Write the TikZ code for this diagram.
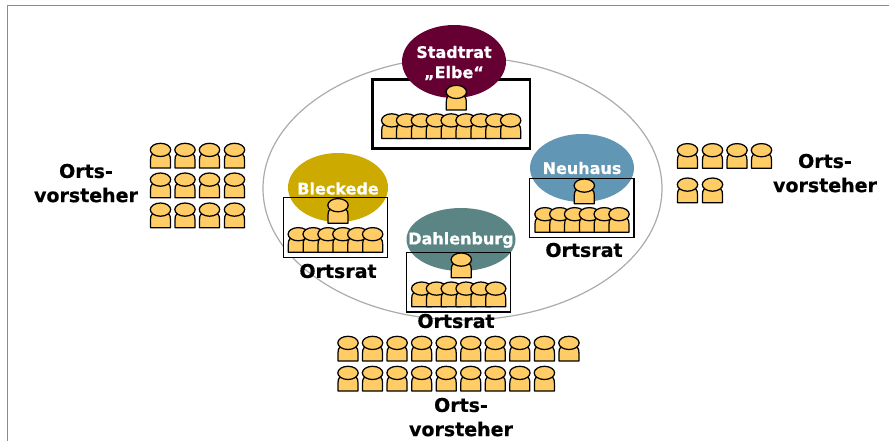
\documentclass[tikz,border=0pt]{standalone}
\usepackage{fontspec}
\setmainfont{DejaVu Sans}[BoldFeatures={FakeBold=0.6}]
\usetikzlibrary{shapes.geometric}
\definecolor{personfill}{HTML}{FFCC66}
\definecolor{ringgray}{HTML}{ABABAB}
\definecolor{framegray}{HTML}{8C8C8C}
\definecolor{stadtcol}{HTML}{660033}
\definecolor{bleckcol}{HTML}{CCAA00}
\definecolor{dahlcol}{HTML}{5B8585}
\definecolor{neucol}{HTML}{6296B5}
\tikzset{
  blob/.style={ellipse,fill=#1,draw=none,inner sep=0pt,outer sep=0pt},
  blobtext/.style={text=white,font=\fontsize{16}{18}\selectfont\bfseries,inner sep=0pt,anchor=center},
  lab/.style={text=black,font=\fontsize{19}{22}\selectfont\bfseries,inner sep=0pt,anchor=center},
  person/.pic={
    \draw[fill=personfill,draw=black,line width=1.25pt,line join=round]
      (-10,25) -- (-10,17) .. controls (-10,12) and (-8.5,9) .. (0,9)
      .. controls (8.5,9) and (10,12) .. (10,17) -- (10,25) -- cycle;
    \draw[fill=personfill,draw=black,line width=1.25pt] (0,6.9) ellipse [x radius=10.2,y radius=6.6];
  }
}
\begin{document}
\begin{tikzpicture}[x=1pt,y=-1pt]
\useasboundingbox (0,0) rectangle (889,441);
% page frame
\draw[framegray,line width=1pt] (7.5,441) -- (7.5,5.5) -- (889,5.5);
% ring
\draw[ringgray,line width=1.2pt] (462.5,188.5) ellipse [x radius=199.5,y radius=131.5];

% Stadtrat
\draw[black,line width=2.6pt,fill=white] (372.5,79.5) rectangle (530,148.5);
\node[blob=stadtcol,minimum width=104pt,minimum height=73pt] (stadtrat) at (454,61.5) {};
\node[blobtext] (stadtrattext) at (454,52) {Stadtrat};
\node[blobtext] (elbetext) at (454,73) {„Elbe“};
\pic at (456.3,85) {person};
\foreach \i in {0,...,8} \pic at ({391.7+14.87*\i},113.5) {person};

% Bleckede
\fill[white] (283.5,197.8) rectangle (387.5,257.3);
\node[blob=bleckcol,minimum width=100pt,minimum height=69pt] (bleckede) at (338,187.5) {};
\draw[black,line width=1.3pt] (283.5,197.8) rectangle (387.5,257.3);
\node[blobtext] (bleckedetext) at (338,188.5) {Bleckede};
\pic at (338,198.3) {person};
\foreach \i in {0,...,5} \pic at ({298.3+14.87*\i},227.3) {person};
\node[lab] (ortsratb) at (338,271) {Ortsrat};

% Neuhaus
\fill[white] (529.5,178.5) rectangle (634,237.7);
\node[blob=neucol,minimum width=104pt,minimum height=68pt] (neuhaus) at (582,168) {};
\draw[black,line width=1.3pt] (529.5,178.5) rectangle (634,237.7);
\node[blobtext] (neuhaustext) at (582,168) {Neuhaus};
\pic at (584.3,178.7) {person};
\foreach \i in {0,...,5} \pic at ({545+14.8*\i},207.3) {person};
\node[lab] (ortsratn) at (584,250) {Ortsrat};

% Dahlenburg
\fill[white] (406.8,252.4) rectangle (510.7,312);
\node[blob=dahlcol,minimum width=109pt,minimum height=63pt] (dahlenburg) at (461,239.5) {};
\draw[black,line width=1.3pt] (406.8,252.4) rectangle (510.7,312);
\node[blobtext] (dahlenburgtext) at (461,240) {Dahlenburg};
\pic at (461.3,252.7) {person};
\foreach \i in {0,...,5} \pic at ({421.7+14.8*\i},281.7) {person};
\node[lab] (ortsratd) at (456,321) {Ortsrat};

% left group
\foreach \y in {143,172.7,202.7}
  \foreach \x in {160.5,185,209.5,234.5} \pic at (\x,\y) {person};
\node[lab] (leftone) at (86,171) {Orts-};
\node[lab] (lefttwo) at (86,195) {vorsteher};

% right group
\foreach \x in {687.5,712.5,737,761.5} \pic at (\x,143.3) {person};
\foreach \x in {687.5,712.5} \pic at (\x,177.7) {person};
\node[lab] (rightone) at (825,161) {Orts-};
\node[lab] (righttwo) at (825,185) {vorsteher};

% bottom group
\foreach \i in {0,...,9} \pic at ({348+24.55*\i},336) {person};
\foreach \i in {0,...,8} \pic at ({348+24.55*\i},366) {person};
\node[lab] (botone) at (461,405) {Orts-};
\node[lab] (bottwo) at (461,429) {vorsteher};
\end{tikzpicture}
\end{document}
